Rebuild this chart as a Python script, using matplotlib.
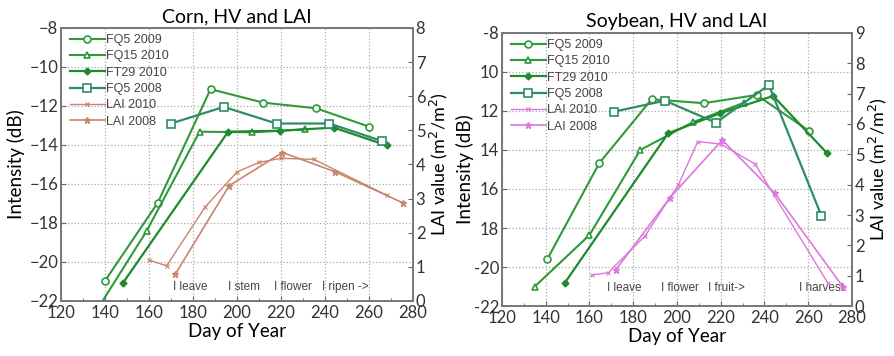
import matplotlib
matplotlib.use('Agg')
import matplotlib.pyplot as plt
from matplotlib.ticker import MultipleLocator

# ---- corn data ----
corn_fq5_2009_x = [140, 164, 188, 212, 236, 260]
corn_fq5_2009_y = [-20.97, -16.96, -11.14, -11.83, -12.12, -13.06]
corn_fq15_2010_x = [135, 159, 183, 207, 231]
corn_fq15_2010_y = [-22.7, -18.4, -13.32, -13.35, -13.2]
corn_ft29_2010_x = [148, 196, 219.5, 244, 268]
corn_ft29_2010_y = [-21.1, -13.32, -13.27, -13.11, -14.02]
corn_fq5_2008_x = [170, 194, 218, 242, 266]
corn_fq5_2008_y = [-12.9, -12.05, -12.9, -12.9, -13.8]
corn_lai_2010_x = [160, 168, 185.5, 200, 210, 220, 235, 268]
corn_lai_2010_y = [1.2, 1.03, 2.75, 3.78, 4.06, 4.18, 4.15, 3.1]
corn_lai_2008_x = [172, 196.5, 220.7, 244.5, 275.6]
corn_lai_2008_y = [0.79, 3.38, 4.35, 3.79, 2.87]
corn_stages = ['I leave', 'I stem', 'I flower', 'I ripen ->']
corn_stage_x = [171, 196, 217, 238.5]

# ---- soybean data ----
soy_fq5_2009_x = [140.7, 164.5, 188.4, 212.3, 236.4, 260.5]
soy_fq5_2009_y = [-19.6, -14.67, -11.4, -11.6, -11.18, -13.03]
soy_fq15_2010_x = [135, 160, 183.2, 207.2, 230.8]
soy_fq15_2010_y = [-21.0, -18.36, -14.0, -12.58, -11.57]
soy_ft29_2010_x = [148.8, 196, 219.7, 244, 268.4]
soy_ft29_2010_y = [-20.8, -13.14, -12.12, -11.23, -14.14]
soy_fq5_2008_x = [171, 194.5, 217.8, 242, 266]
soy_fq5_2008_y = [-12.04, -11.47, -12.6, -10.67, -17.37]
soy_lai_2010_x = [161, 168.6, 185.4, 200.6, 209.5, 220, 235.7, 269]
soy_lai_2010_y = [1.02, 1.1, 2.31, 3.99, 5.42, 5.34, 4.68, 0.75]
soy_lai_2008_x = [172, 196.8, 220.7, 244.8, 276]
soy_lai_2008_y = [1.19, 3.57, 5.47, 3.71, 0.62]
soy_stages = ['I leave', 'I flower', 'I fruit->', 'I harvest']
soy_stage_x = [168, 192.5, 214, 256]
soy_ytick_labels = ['-8', '10', '12', '14', '16', '18', '-20', '-22']

GREEN = '#2f9a3a'
GREEN_D = '#1f8a2e'
TEAL = '#2e8c66'
FONT = 'Lato'
SMALL = 'Liberation Sans'
TICK_C = '#333333'


def style_axes(ax, ax2, lai_max, pad_l, pad_r):
    ax.set_xlim(120, 280)
    ax.set_ylim(-22, -8)
    ax.xaxis.set_major_locator(MultipleLocator(20))
    ax.xaxis.set_minor_locator(MultipleLocator(10))
    ax.yaxis.set_major_locator(MultipleLocator(2))
    ax.grid(True, which='major', linestyle=':', color='#aaaaaa', linewidth=0.9)
    ax.tick_params(axis='both', which='both', direction='in', labelsize=12,
                   labelcolor=TICK_C, color='#666666', pad=2)
    ax.tick_params(axis='x', top=False, pad=3)
    ax2.set_ylim(0, lai_max)
    ax2.yaxis.set_major_locator(MultipleLocator(1))
    ax2.tick_params(axis='y', direction='in', labelsize=12, labelcolor=TICK_C,
                    color='#666666', pad=2)
    for a in (ax, ax2):
        for sp in a.spines.values():
            sp.set_color('#777777')
            sp.set_linewidth(1.2)
    for lab in ax.get_xticklabels() + ax.get_yticklabels() + ax2.get_yticklabels():
        lab.set_family(FONT)
    ax.set_xlabel('Day of Year', fontsize=13.5, family=FONT, labelpad=1)
    ax.set_ylabel('Intensity (dB)', fontsize=13.5, family=FONT, labelpad=pad_l)
    ax2.set_ylabel('LAI value (m$^2$/m$^2$)', fontsize=13, family=FONT, labelpad=pad_r)


def draw_panel(ax, data, lai_color, lai_max, title, stages, stage_x, stage_y, pad_l, pad_r):
    ax2 = ax.twinx()
    (x1, y1), (x2, y2), (x3, y3), (x4, y4), (l1x, l1y), (l2x, l2y) = data
    h = []
    h += ax.plot(x1, y1, '-o', color=GREEN, mfc='white', ms=5, lw=1.5, mew=1.2, label='FQ5 2009')
    h += ax.plot(x2, y2, '-^', color=GREEN, mfc='white', ms=5, lw=1.5, mew=1.2, label='FQ15 2010')
    h += ax.plot(x3, y3, '-D', color=GREEN_D, ms=3.5, lw=1.6, label='FT29 2010')
    h += ax.plot(x4, y4, '-s', color=TEAL, mfc='white', ms=5.5, lw=1.6, mew=1.2, label='FQ5 2008')
    h += ax2.plot(l1x, l1y, '-x', color=lai_color, ms=3, lw=1.0, mew=0.8, label='LAI 2010')
    h += ax2.plot(l2x, l2y, '-*', color=lai_color, ms=5, lw=1.2, label='LAI 2008')
    style_axes(ax, ax2, lai_max, pad_l, pad_r)
    for s, xs in zip(stages, stage_x):
        ax.text(xs, stage_y, s, fontsize=8.5, color='#444444', family=SMALL,
                va='center', ha='left')
    leg = ax2.legend(handles=h, loc='upper left', bbox_to_anchor=(0.0, 1.01), frameon=False,
                     handlelength=2.8, labelspacing=0.35, handletextpad=0.1,
                     borderaxespad=0.3, prop={'family': SMALL, 'size': 9})
    for t in leg.get_texts():
        t.set_color('#444444')
    ax.set_title(title, fontsize=14, family=FONT, pad=4)
    return ax2


fig = plt.figure(figsize=(8.94, 3.56), dpi=100)
ax_l = fig.add_axes([0.0682, 0.1545, 0.3937, 0.767])
ax_r = fig.add_axes([0.5615, 0.1404, 0.3915, 0.767])

draw_panel(ax_l,
           [(corn_fq5_2009_x, corn_fq5_2009_y), (corn_fq15_2010_x, corn_fq15_2010_y),
            (corn_ft29_2010_x, corn_ft29_2010_y), (corn_fq5_2008_x, corn_fq5_2008_y),
            (corn_lai_2010_x, corn_lai_2010_y), (corn_lai_2008_x, corn_lai_2008_y)],
           '#c9846c', 8, 'Corn, HV and LAI', corn_stages, corn_stage_x, -21.3, 3, 2)

draw_panel(ax_r,
           [(soy_fq5_2009_x, soy_fq5_2009_y), (soy_fq15_2010_x, soy_fq15_2010_y),
            (soy_ft29_2010_x, soy_ft29_2010_y), (soy_fq5_2008_x, soy_fq5_2008_y),
            (soy_lai_2010_x, soy_lai_2010_y), (soy_lai_2008_x, soy_lai_2008_y)],
           '#dd77dd', 9, 'Soybean, HV and LAI', soy_stages, soy_stage_x, -21.1, 0, 2)
ax_r.set_yticks([-8, -10, -12, -14, -16, -18, -20, -22])
ax_r.set_yticklabels(soy_ytick_labels, family=FONT)

fig.savefig('out.png', dpi=100)
